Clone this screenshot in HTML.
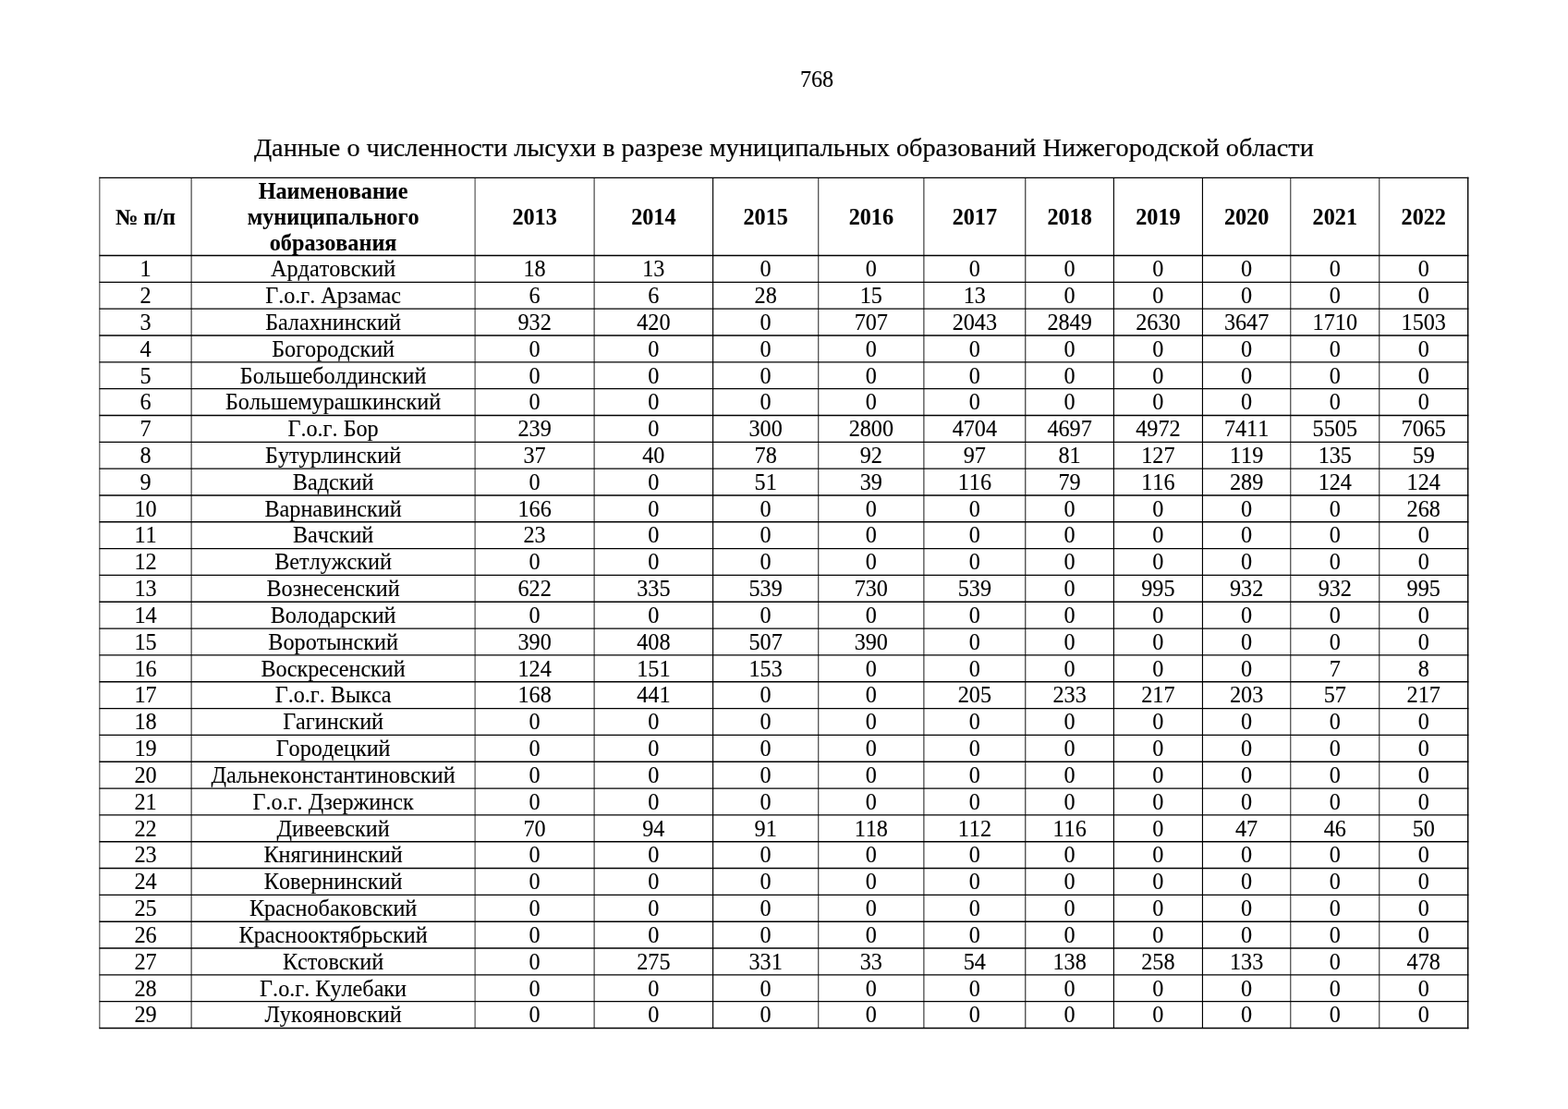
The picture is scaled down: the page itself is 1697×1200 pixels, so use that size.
<!DOCTYPE html>
<html lang="ru"><head><meta charset="utf-8"><title>768</title>
<style>
html,body{margin:0;padding:0;background:#fff;}
body{width:1697px;height:1200px;position:relative;overflow:hidden;font-family:"Liberation Serif","Times New Roman",serif;color:#000;font-kerning:none;font-feature-settings:"kern" 0,"liga" 0;-webkit-text-stroke:0.12px #000;}
.pg{position:absolute;left:0;top:0;width:1697px;height:1200px;}
.t{position:absolute;white-space:nowrap;text-align:center;}
.row{position:absolute;left:0;width:1697px;height:27px;font-size:24.19px;line-height:27px;}
.row>div{position:absolute;top:0;height:27px;text-align:center;white-space:nowrap;}
.hd{font-weight:bold;-webkit-text-stroke:0.1px #000;}
.c0{left:107.85px;width:99.25px;}
.c1{left:207.1px;width:307px;}
.c2{left:514.1px;width:129px;}
.c3{left:643.1px;width:128.5px;}
.c4{left:771.6px;width:114.15px;}
.c5{left:885.75px;width:114.15px;}
.c6{left:999.9px;width:109.9px;}
.c7{left:1109.8px;width:95.6px;}
.c8{left:1205.4px;width:96.05px;}
.c9{left:1301.45px;width:95.35px;}
.c10{left:1396.8px;width:96px;}
.c11{left:1492.8px;width:95.92px;}
svg{position:absolute;left:0;top:0;}
</style></head><body><div class="pg">
<svg width="1697" height="1200" viewBox="0 0 1697 1200"><g stroke="#000" stroke-width="1.35" fill="none"><line x1="107.45" y1="192.3" x2="1589.41" y2="192.3"/><line x1="107.45" y1="276.5" x2="1589.41" y2="276.5"/><line x1="107.45" y1="305.33" x2="1589.41" y2="305.33"/><line x1="107.45" y1="334.16" x2="1589.41" y2="334.16"/><line x1="107.45" y1="362.98" x2="1589.41" y2="362.98"/><line x1="107.45" y1="391.81" x2="1589.41" y2="391.81"/><line x1="107.45" y1="420.64" x2="1589.41" y2="420.64"/><line x1="107.45" y1="449.47" x2="1589.41" y2="449.47"/><line x1="107.45" y1="478.3" x2="1589.41" y2="478.3"/><line x1="107.45" y1="507.12" x2="1589.41" y2="507.12"/><line x1="107.45" y1="535.95" x2="1589.41" y2="535.95"/><line x1="107.45" y1="564.78" x2="1589.41" y2="564.78"/><line x1="107.45" y1="593.61" x2="1589.41" y2="593.61"/><line x1="107.45" y1="622.44" x2="1589.41" y2="622.44"/><line x1="107.45" y1="651.26" x2="1589.41" y2="651.26"/><line x1="107.45" y1="680.09" x2="1589.41" y2="680.09"/><line x1="107.45" y1="708.92" x2="1589.41" y2="708.92"/><line x1="107.45" y1="737.75" x2="1589.41" y2="737.75"/><line x1="107.45" y1="766.58" x2="1589.41" y2="766.58"/><line x1="107.45" y1="795.4" x2="1589.41" y2="795.4"/><line x1="107.45" y1="824.23" x2="1589.41" y2="824.23"/><line x1="107.45" y1="853.06" x2="1589.41" y2="853.06"/><line x1="107.45" y1="881.89" x2="1589.41" y2="881.89"/><line x1="107.45" y1="910.72" x2="1589.41" y2="910.72"/><line x1="107.45" y1="939.54" x2="1589.41" y2="939.54"/><line x1="107.45" y1="968.37" x2="1589.41" y2="968.37"/><line x1="107.45" y1="997.2" x2="1589.41" y2="997.2"/><line x1="107.45" y1="1026.03" x2="1589.41" y2="1026.03"/><line x1="107.45" y1="1054.86" x2="1589.41" y2="1054.86"/><line x1="107.45" y1="1083.68" x2="1589.41" y2="1083.68"/><line x1="107.45" y1="1112.51" x2="1589.41" y2="1112.51"/></g><g stroke="#000" fill="none"><line x1="107.85" y1="191.65" x2="107.85" y2="1113.16" stroke-width="0.8"/><line x1="207.1" y1="192.3" x2="207.1" y2="1112.51" stroke-width="0.9"/><line x1="514.1" y1="192.3" x2="514.1" y2="1112.51" stroke-width="0.8"/><line x1="643.1" y1="192.3" x2="643.1" y2="1112.51" stroke-width="0.88"/><line x1="771.6" y1="192.3" x2="771.6" y2="1112.51" stroke-width="1.15"/><line x1="885.75" y1="192.3" x2="885.75" y2="1112.51" stroke-width="0.88"/><line x1="999.9" y1="192.3" x2="999.9" y2="1112.51" stroke-width="0.92"/><line x1="1109.8" y1="192.3" x2="1109.8" y2="1112.51" stroke-width="0.95"/><line x1="1205.4" y1="192.3" x2="1205.4" y2="1112.51" stroke-width="1.15"/><line x1="1301.45" y1="192.3" x2="1301.45" y2="1112.51" stroke-width="1.15"/><line x1="1396.8" y1="192.3" x2="1396.8" y2="1112.51" stroke-width="0.88"/><line x1="1492.8" y1="192.3" x2="1492.8" y2="1112.51" stroke-width="0.88"/><line x1="1588.72" y1="191.65" x2="1588.72" y2="1113.16" stroke-width="1.38"/></g></svg>
<div class="t" style="left:784.05px;top:72px;width:200px;font-size:24.19px;line-height:27px;height:27px;">768</div>
<div class="t" style="left:148.35px;top:144px;width:1400px;font-size:28.22px;line-height:31px;height:31px;-webkit-text-stroke:0.2px #000;">Данные о численности лысухи в разрезе муниципальных образований Нижегородской области</div>
<div role="table">
<div class="row hd" role="row" style="top:193px"><div class="c1" role="cell">Наименование</div></div>
<div class="row hd" role="row" style="top:221px"><div class="c0" role="cell">№ п/п</div><div class="c1" role="cell">муниципального</div><div class="c2" role="cell">2013</div><div class="c3" role="cell">2014</div><div class="c4" role="cell">2015</div><div class="c5" role="cell">2016</div><div class="c6" role="cell">2017</div><div class="c7" role="cell">2018</div><div class="c8" role="cell">2019</div><div class="c9" role="cell">2020</div><div class="c10" role="cell">2021</div><div class="c11" role="cell">2022</div></div>
<div class="row hd" role="row" style="top:249px"><div class="c1" role="cell">образования</div></div>
<div class="row" role="row" style="top:277px"><div class="c0" role="cell">1</div><div class="c1" role="cell">Ардатовский</div><div class="c2" role="cell">18</div><div class="c3" role="cell">13</div><div class="c4" role="cell">0</div><div class="c5" role="cell">0</div><div class="c6" role="cell">0</div><div class="c7" role="cell">0</div><div class="c8" role="cell">0</div><div class="c9" role="cell">0</div><div class="c10" role="cell">0</div><div class="c11" role="cell">0</div></div>
<div class="row" role="row" style="top:306px"><div class="c0" role="cell">2</div><div class="c1" role="cell">Г.о.г. Арзамас</div><div class="c2" role="cell">6</div><div class="c3" role="cell">6</div><div class="c4" role="cell">28</div><div class="c5" role="cell">15</div><div class="c6" role="cell">13</div><div class="c7" role="cell">0</div><div class="c8" role="cell">0</div><div class="c9" role="cell">0</div><div class="c10" role="cell">0</div><div class="c11" role="cell">0</div></div>
<div class="row" role="row" style="top:335px"><div class="c0" role="cell">3</div><div class="c1" role="cell">Балахнинский</div><div class="c2" role="cell">932</div><div class="c3" role="cell">420</div><div class="c4" role="cell">0</div><div class="c5" role="cell">707</div><div class="c6" role="cell">2043</div><div class="c7" role="cell">2849</div><div class="c8" role="cell">2630</div><div class="c9" role="cell">3647</div><div class="c10" role="cell">1710</div><div class="c11" role="cell">1503</div></div>
<div class="row" role="row" style="top:364px"><div class="c0" role="cell">4</div><div class="c1" role="cell">Богородский</div><div class="c2" role="cell">0</div><div class="c3" role="cell">0</div><div class="c4" role="cell">0</div><div class="c5" role="cell">0</div><div class="c6" role="cell">0</div><div class="c7" role="cell">0</div><div class="c8" role="cell">0</div><div class="c9" role="cell">0</div><div class="c10" role="cell">0</div><div class="c11" role="cell">0</div></div>
<div class="row" role="row" style="top:393px"><div class="c0" role="cell">5</div><div class="c1" role="cell">Большеболдинский</div><div class="c2" role="cell">0</div><div class="c3" role="cell">0</div><div class="c4" role="cell">0</div><div class="c5" role="cell">0</div><div class="c6" role="cell">0</div><div class="c7" role="cell">0</div><div class="c8" role="cell">0</div><div class="c9" role="cell">0</div><div class="c10" role="cell">0</div><div class="c11" role="cell">0</div></div>
<div class="row" role="row" style="top:421px"><div class="c0" role="cell">6</div><div class="c1" role="cell">Большемурашкинский</div><div class="c2" role="cell">0</div><div class="c3" role="cell">0</div><div class="c4" role="cell">0</div><div class="c5" role="cell">0</div><div class="c6" role="cell">0</div><div class="c7" role="cell">0</div><div class="c8" role="cell">0</div><div class="c9" role="cell">0</div><div class="c10" role="cell">0</div><div class="c11" role="cell">0</div></div>
<div class="row" role="row" style="top:450px"><div class="c0" role="cell">7</div><div class="c1" role="cell">Г.о.г. Бор</div><div class="c2" role="cell">239</div><div class="c3" role="cell">0</div><div class="c4" role="cell">300</div><div class="c5" role="cell">2800</div><div class="c6" role="cell">4704</div><div class="c7" role="cell">4697</div><div class="c8" role="cell">4972</div><div class="c9" role="cell">7411</div><div class="c10" role="cell">5505</div><div class="c11" role="cell">7065</div></div>
<div class="row" role="row" style="top:479px"><div class="c0" role="cell">8</div><div class="c1" role="cell">Бутурлинский</div><div class="c2" role="cell">37</div><div class="c3" role="cell">40</div><div class="c4" role="cell">78</div><div class="c5" role="cell">92</div><div class="c6" role="cell">97</div><div class="c7" role="cell">81</div><div class="c8" role="cell">127</div><div class="c9" role="cell">119</div><div class="c10" role="cell">135</div><div class="c11" role="cell">59</div></div>
<div class="row" role="row" style="top:508px"><div class="c0" role="cell">9</div><div class="c1" role="cell">Вадский</div><div class="c2" role="cell">0</div><div class="c3" role="cell">0</div><div class="c4" role="cell">51</div><div class="c5" role="cell">39</div><div class="c6" role="cell">116</div><div class="c7" role="cell">79</div><div class="c8" role="cell">116</div><div class="c9" role="cell">289</div><div class="c10" role="cell">124</div><div class="c11" role="cell">124</div></div>
<div class="row" role="row" style="top:537px"><div class="c0" role="cell">10</div><div class="c1" role="cell">Варнавинский</div><div class="c2" role="cell">166</div><div class="c3" role="cell">0</div><div class="c4" role="cell">0</div><div class="c5" role="cell">0</div><div class="c6" role="cell">0</div><div class="c7" role="cell">0</div><div class="c8" role="cell">0</div><div class="c9" role="cell">0</div><div class="c10" role="cell">0</div><div class="c11" role="cell">268</div></div>
<div class="row" role="row" style="top:565px"><div class="c0" role="cell">11</div><div class="c1" role="cell">Вачский</div><div class="c2" role="cell">23</div><div class="c3" role="cell">0</div><div class="c4" role="cell">0</div><div class="c5" role="cell">0</div><div class="c6" role="cell">0</div><div class="c7" role="cell">0</div><div class="c8" role="cell">0</div><div class="c9" role="cell">0</div><div class="c10" role="cell">0</div><div class="c11" role="cell">0</div></div>
<div class="row" role="row" style="top:594px"><div class="c0" role="cell">12</div><div class="c1" role="cell">Ветлужский</div><div class="c2" role="cell">0</div><div class="c3" role="cell">0</div><div class="c4" role="cell">0</div><div class="c5" role="cell">0</div><div class="c6" role="cell">0</div><div class="c7" role="cell">0</div><div class="c8" role="cell">0</div><div class="c9" role="cell">0</div><div class="c10" role="cell">0</div><div class="c11" role="cell">0</div></div>
<div class="row" role="row" style="top:623px"><div class="c0" role="cell">13</div><div class="c1" role="cell">Вознесенский</div><div class="c2" role="cell">622</div><div class="c3" role="cell">335</div><div class="c4" role="cell">539</div><div class="c5" role="cell">730</div><div class="c6" role="cell">539</div><div class="c7" role="cell">0</div><div class="c8" role="cell">995</div><div class="c9" role="cell">932</div><div class="c10" role="cell">932</div><div class="c11" role="cell">995</div></div>
<div class="row" role="row" style="top:652px"><div class="c0" role="cell">14</div><div class="c1" role="cell">Володарский</div><div class="c2" role="cell">0</div><div class="c3" role="cell">0</div><div class="c4" role="cell">0</div><div class="c5" role="cell">0</div><div class="c6" role="cell">0</div><div class="c7" role="cell">0</div><div class="c8" role="cell">0</div><div class="c9" role="cell">0</div><div class="c10" role="cell">0</div><div class="c11" role="cell">0</div></div>
<div class="row" role="row" style="top:681px"><div class="c0" role="cell">15</div><div class="c1" role="cell">Воротынский</div><div class="c2" role="cell">390</div><div class="c3" role="cell">408</div><div class="c4" role="cell">507</div><div class="c5" role="cell">390</div><div class="c6" role="cell">0</div><div class="c7" role="cell">0</div><div class="c8" role="cell">0</div><div class="c9" role="cell">0</div><div class="c10" role="cell">0</div><div class="c11" role="cell">0</div></div>
<div class="row" role="row" style="top:710px"><div class="c0" role="cell">16</div><div class="c1" role="cell">Воскресенский</div><div class="c2" role="cell">124</div><div class="c3" role="cell">151</div><div class="c4" role="cell">153</div><div class="c5" role="cell">0</div><div class="c6" role="cell">0</div><div class="c7" role="cell">0</div><div class="c8" role="cell">0</div><div class="c9" role="cell">0</div><div class="c10" role="cell">7</div><div class="c11" role="cell">8</div></div>
<div class="row" role="row" style="top:738px"><div class="c0" role="cell">17</div><div class="c1" role="cell">Г.о.г. Выкса</div><div class="c2" role="cell">168</div><div class="c3" role="cell">441</div><div class="c4" role="cell">0</div><div class="c5" role="cell">0</div><div class="c6" role="cell">205</div><div class="c7" role="cell">233</div><div class="c8" role="cell">217</div><div class="c9" role="cell">203</div><div class="c10" role="cell">57</div><div class="c11" role="cell">217</div></div>
<div class="row" role="row" style="top:767px"><div class="c0" role="cell">18</div><div class="c1" role="cell">Гагинский</div><div class="c2" role="cell">0</div><div class="c3" role="cell">0</div><div class="c4" role="cell">0</div><div class="c5" role="cell">0</div><div class="c6" role="cell">0</div><div class="c7" role="cell">0</div><div class="c8" role="cell">0</div><div class="c9" role="cell">0</div><div class="c10" role="cell">0</div><div class="c11" role="cell">0</div></div>
<div class="row" role="row" style="top:796px"><div class="c0" role="cell">19</div><div class="c1" role="cell">Городецкий</div><div class="c2" role="cell">0</div><div class="c3" role="cell">0</div><div class="c4" role="cell">0</div><div class="c5" role="cell">0</div><div class="c6" role="cell">0</div><div class="c7" role="cell">0</div><div class="c8" role="cell">0</div><div class="c9" role="cell">0</div><div class="c10" role="cell">0</div><div class="c11" role="cell">0</div></div>
<div class="row" role="row" style="top:825px"><div class="c0" role="cell">20</div><div class="c1" role="cell">Дальнеконстантиновский</div><div class="c2" role="cell">0</div><div class="c3" role="cell">0</div><div class="c4" role="cell">0</div><div class="c5" role="cell">0</div><div class="c6" role="cell">0</div><div class="c7" role="cell">0</div><div class="c8" role="cell">0</div><div class="c9" role="cell">0</div><div class="c10" role="cell">0</div><div class="c11" role="cell">0</div></div>
<div class="row" role="row" style="top:854px"><div class="c0" role="cell">21</div><div class="c1" role="cell">Г.о.г. Дзержинск</div><div class="c2" role="cell">0</div><div class="c3" role="cell">0</div><div class="c4" role="cell">0</div><div class="c5" role="cell">0</div><div class="c6" role="cell">0</div><div class="c7" role="cell">0</div><div class="c8" role="cell">0</div><div class="c9" role="cell">0</div><div class="c10" role="cell">0</div><div class="c11" role="cell">0</div></div>
<div class="row" role="row" style="top:883px"><div class="c0" role="cell">22</div><div class="c1" role="cell">Дивеевский</div><div class="c2" role="cell">70</div><div class="c3" role="cell">94</div><div class="c4" role="cell">91</div><div class="c5" role="cell">118</div><div class="c6" role="cell">112</div><div class="c7" role="cell">116</div><div class="c8" role="cell">0</div><div class="c9" role="cell">47</div><div class="c10" role="cell">46</div><div class="c11" role="cell">50</div></div>
<div class="row" role="row" style="top:911px"><div class="c0" role="cell">23</div><div class="c1" role="cell">Княгининский</div><div class="c2" role="cell">0</div><div class="c3" role="cell">0</div><div class="c4" role="cell">0</div><div class="c5" role="cell">0</div><div class="c6" role="cell">0</div><div class="c7" role="cell">0</div><div class="c8" role="cell">0</div><div class="c9" role="cell">0</div><div class="c10" role="cell">0</div><div class="c11" role="cell">0</div></div>
<div class="row" role="row" style="top:940px"><div class="c0" role="cell">24</div><div class="c1" role="cell">Ковернинский</div><div class="c2" role="cell">0</div><div class="c3" role="cell">0</div><div class="c4" role="cell">0</div><div class="c5" role="cell">0</div><div class="c6" role="cell">0</div><div class="c7" role="cell">0</div><div class="c8" role="cell">0</div><div class="c9" role="cell">0</div><div class="c10" role="cell">0</div><div class="c11" role="cell">0</div></div>
<div class="row" role="row" style="top:969px"><div class="c0" role="cell">25</div><div class="c1" role="cell">Краснобаковский</div><div class="c2" role="cell">0</div><div class="c3" role="cell">0</div><div class="c4" role="cell">0</div><div class="c5" role="cell">0</div><div class="c6" role="cell">0</div><div class="c7" role="cell">0</div><div class="c8" role="cell">0</div><div class="c9" role="cell">0</div><div class="c10" role="cell">0</div><div class="c11" role="cell">0</div></div>
<div class="row" role="row" style="top:998px"><div class="c0" role="cell">26</div><div class="c1" role="cell">Краснооктябрьский</div><div class="c2" role="cell">0</div><div class="c3" role="cell">0</div><div class="c4" role="cell">0</div><div class="c5" role="cell">0</div><div class="c6" role="cell">0</div><div class="c7" role="cell">0</div><div class="c8" role="cell">0</div><div class="c9" role="cell">0</div><div class="c10" role="cell">0</div><div class="c11" role="cell">0</div></div>
<div class="row" role="row" style="top:1027px"><div class="c0" role="cell">27</div><div class="c1" role="cell">Кстовский</div><div class="c2" role="cell">0</div><div class="c3" role="cell">275</div><div class="c4" role="cell">331</div><div class="c5" role="cell">33</div><div class="c6" role="cell">54</div><div class="c7" role="cell">138</div><div class="c8" role="cell">258</div><div class="c9" role="cell">133</div><div class="c10" role="cell">0</div><div class="c11" role="cell">478</div></div>
<div class="row" role="row" style="top:1056px"><div class="c0" role="cell">28</div><div class="c1" role="cell">Г.о.г. Кулебаки</div><div class="c2" role="cell">0</div><div class="c3" role="cell">0</div><div class="c4" role="cell">0</div><div class="c5" role="cell">0</div><div class="c6" role="cell">0</div><div class="c7" role="cell">0</div><div class="c8" role="cell">0</div><div class="c9" role="cell">0</div><div class="c10" role="cell">0</div><div class="c11" role="cell">0</div></div>
<div class="row" role="row" style="top:1084px"><div class="c0" role="cell">29</div><div class="c1" role="cell">Лукояновский</div><div class="c2" role="cell">0</div><div class="c3" role="cell">0</div><div class="c4" role="cell">0</div><div class="c5" role="cell">0</div><div class="c6" role="cell">0</div><div class="c7" role="cell">0</div><div class="c8" role="cell">0</div><div class="c9" role="cell">0</div><div class="c10" role="cell">0</div><div class="c11" role="cell">0</div></div>
</div>
</div></body></html>
